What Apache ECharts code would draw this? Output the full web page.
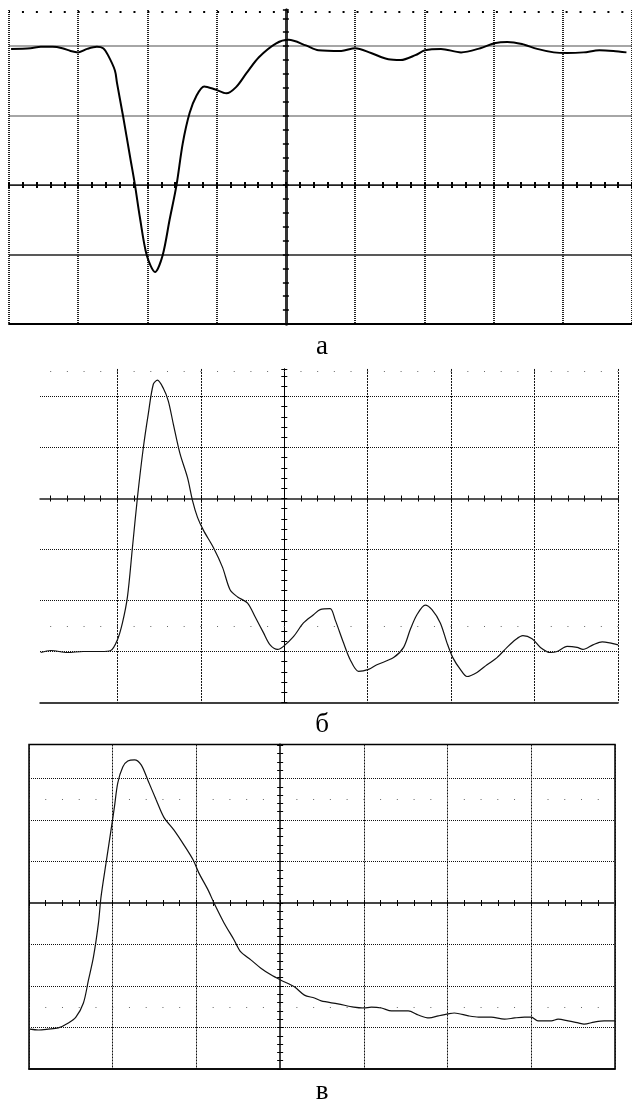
<!DOCTYPE html>
<html><head><meta charset="utf-8">
<script src="https://cdn.jsdelivr.net/npm/echarts@6/dist/echarts.min.js"></script>
<style>html,body{margin:0;padding:0;background:#fff}#c{width:632px;height:1101px}</style>
</head><body><div id="c"></div>
<script>
// Panel captions
const panelLabels = ['а', 'б', 'в'];

// Trace "а": time (divisions) and amplitude (divisions)
const tA = [-3.97,-3.69,-3.54,-3.37,-3.23,-3.11,-3.00,-2.87,-2.73,-2.64,-2.57,-2.47,-2.44,-2.35,-2.25,-2.18,-2.11,-2.01,-1.89,-1.78,-1.68,-1.58,-1.49,-1.39,-1.29,-1.18,-1.03,-0.86,-0.72,-0.57,-0.39,-0.14,0.04,0.29,0.47,0.80,1.00,1.23,1.48,1.66,1.87,2.01,2.24,2.53,2.81,3.01,3.20,3.41,3.63,3.87,4.06,4.30,4.53,4.73,4.92];
const vA = [1.96,1.97,1.99,1.99,1.97,1.93,1.91,1.96,1.99,1.97,1.87,1.65,1.47,0.98,0.40,0,-0.46,-1.01,-1.25,-1.01,-0.50,0,0.60,1.04,1.29,1.42,1.38,1.32,1.41,1.61,1.84,2.04,2.09,2.01,1.94,1.93,1.97,1.90,1.81,1.80,1.87,1.94,1.96,1.91,1.97,2.04,2.06,2.03,1.96,1.91,1.90,1.91,1.94,1.93,1.91];

// Trace "б"
const tB = [-2.92,-2.80,-2.60,-2.41,-2.20,-2.08,-2.00,-1.94,-1.88,-1.82,-1.76,-1.69,-1.63,-1.57,-1.52,-1.45,-1.39,-1.33,-1.25,-1.16,-1.10,-1.04,-0.97,-0.85,-0.74,-0.65,-0.56,-0.44,-0.35,-0.25,-0.17,-0.08,-0.01,0.11,0.23,0.35,0.43,0.55,0.61,0.71,0.79,0.89,1.01,1.11,1.31,1.43,1.51,1.59,1.69,1.77,1.87,1.95,2.02,2.11,2.19,2.31,2.43,2.55,2.67,2.77,2.86,2.97,3.07,3.19,3.27,3.39,3.51,3.58,3.70,3.81,3.90,4.00];
const vB = [-3.02,-2.98,-3.02,-3.00,-3.00,-2.98,-2.77,-2.44,-1.93,-0.96,0.02,0.99,1.66,2.24,2.32,2.16,1.91,1.46,0.88,0.41,-0.04,-0.37,-0.62,-0.96,-1.35,-1.79,-1.93,-2.05,-2.32,-2.63,-2.87,-2.96,-2.90,-2.71,-2.44,-2.28,-2.18,-2.16,-2.38,-2.83,-3.16,-3.39,-3.35,-3.26,-3.12,-2.92,-2.57,-2.28,-2.09,-2.18,-2.44,-2.83,-3.12,-3.35,-3.49,-3.41,-3.26,-3.12,-2.92,-2.77,-2.69,-2.75,-2.92,-3.02,-3.00,-2.90,-2.92,-2.96,-2.87,-2.81,-2.83,-2.87];

// Trace "в"
const tC = [-2.99,-2.89,-2.77,-2.65,-2.53,-2.44,-2.35,-2.29,-2.23,-2.17,-2.14,-2.08,-2.02,-1.98,-1.94,-1.88,-1.82,-1.74,-1.66,-1.58,-1.48,-1.39,-1.27,-1.15,-1.04,-0.97,-0.86,-0.79,-0.67,-0.55,-0.47,-0.35,-0.23,-0.11,0.01,0.17,0.29,0.41,0.49,0.69,0.88,1.00,1.09,1.21,1.33,1.53,1.65,1.78,1.89,2.01,2.08,2.25,2.37,2.52,2.68,2.80,2.92,3.00,3.08,3.24,3.32,3.44,3.56,3.63,3.75,3.87,4.00];
const vC = [-3.04,-3.06,-3.04,-3.01,-2.89,-2.75,-2.41,-1.86,-1.30,-0.48,0.14,0.96,1.76,2.31,2.89,3.28,3.42,3.45,3.33,2.96,2.48,2.07,1.76,1.40,1.04,0.72,0.31,0,-0.48,-0.89,-1.18,-1.37,-1.57,-1.73,-1.86,-2.02,-2.22,-2.29,-2.36,-2.43,-2.51,-2.53,-2.51,-2.53,-2.60,-2.60,-2.70,-2.77,-2.72,-2.67,-2.65,-2.72,-2.75,-2.75,-2.80,-2.77,-2.75,-2.75,-2.84,-2.84,-2.80,-2.84,-2.89,-2.92,-2.87,-2.84,-2.84];

// Graticule dot rows (divisions)
const dotRowsA = [2.5];
const dotRowsB = [2.5, -2.5];
const dotRowsC = [2.5, -2.5];

const traces = [[tA, vA], [tB, vB], [tC, vC]];
const dotRows = [dotRowsA, dotRowsB, dotRowsC];

const layout = [
  {left: 9, top: 10, width: 627.3, height: 314, xMin: -4, xMax: 5, yMin: -2, yMax: 2.52, labelY: 347},
  {left: 34, top: 368.96, width: 584, height: 333.54, xMin: -3, xMax: 4, yMin: -4, yMax: 2.54, labelY: 725},
  {left: 29, top: 744.47, width: 586, height: 324.53, xMin: -3, xMax: 4, yMin: -4, yMax: 3.82, labelY: 1092}
];

const styles = [
  {box: false,
   xSplit: {color: '#222', width: 2, type: [1, 1]},
   ySplit: {color: ['#222', '#222', '#888', '#888', '#888'], width: 1.5, type: 'solid'},
   xLine: {color: '#222', width: 1}, xTickW: 2,
   yLine: {color: '#333', width: 3}, yTickW: 1.5,
   bottom: {color: '#000', width: 2},
   trace: {color: '#000', width: 2},
   dot: {color: '#000', width: 2, len: 2}},
  {box: false,
   xSplit: {color: '#111', width: 1, type: [2, 1]},
   ySplit: {color: '#111', width: 1, type: [1, 1]},
   xLine: {color: '#555', width: 2}, xTickW: 1,
   yLine: {color: '#000', width: 1}, yTickW: 1,
   bottom: {color: '#000', width: 1.5},
   trace: {color: '#111', width: 1.2},
   dot: {color: '#666', width: 1, len: 1}},
  {box: true,
   xSplit: {color: '#111', width: 1, type: [2, 1]},
   ySplit: {color: '#111', width: 1, type: [1, 1]},
   xLine: {color: '#444', width: 2}, xTickW: 1,
   yLine: {color: '#444', width: 2}, yTickW: 1,
   bottom: {color: '#000', width: 1.5},
   trace: {color: '#111', width: 1.2},
   dot: {color: '#666', width: 1, len: 1}}
];

const grids = [], xAxes = [], yAxes = [], series = [];

layout.forEach((p, i) => {
  const s = styles[i];
  grids.push({left: p.left, top: p.top, width: p.width, height: p.height,
    show: s.box, borderColor: '#000', borderWidth: 1.5, backgroundColor: 'transparent'});

  const xBase = {gridIndex: i, type: 'value', min: p.xMin, max: p.xMax, interval: 1,
    axisLabel: {show: false}, silent: true};
  const yBase = {gridIndex: i, type: 'value', min: p.yMin, max: p.yMax, interval: 1,
    axisLabel: {show: false}, silent: true};
  const xt = {show: true, length: 3, lineStyle: {color: '#000', width: s.xTickW}};
  const xm = {show: true, splitNumber: 5, length: 3, lineStyle: {color: '#000', width: s.xTickW}};
  const yt = {show: true, length: 3, lineStyle: {color: '#000', width: s.yTickW}};
  const ym = {show: true, splitNumber: 5, length: 3, lineStyle: {color: '#000', width: s.yTickW}};

  xAxes.push(Object.assign({}, xBase, {position: 'bottom',
    axisLine: {show: true, onZero: true, lineStyle: s.xLine},
    axisTick: xt, minorTick: xm,
    splitLine: {show: true, showMinLine: true, showMaxLine: true, lineStyle: s.xSplit}}));
  xAxes.push(Object.assign({}, xBase, {position: 'top',
    axisLine: {show: true, onZero: true, lineStyle: s.xLine},
    axisTick: xt, minorTick: xm, splitLine: {show: false}}));
  xAxes.push(Object.assign({}, xBase, {position: 'bottom',
    axisLine: {show: true, onZero: false, lineStyle: s.bottom},
    axisTick: {show: false}, minorTick: {show: false}, splitLine: {show: false}}));

  yAxes.push(Object.assign({}, yBase, {position: 'left',
    axisLine: {show: true, onZero: true, lineStyle: s.yLine},
    axisTick: yt, minorTick: ym,
    splitLine: {show: true, showMinLine: false, showMaxLine: false, lineStyle: s.ySplit}}));
  yAxes.push(Object.assign({}, yBase, {position: 'right',
    axisLine: {show: true, onZero: true, lineStyle: s.yLine},
    axisTick: yt, minorTick: ym, splitLine: {show: false}}));

  const [t, v] = traces[i];
  const period = p.width / ((p.xMax - p.xMin) * 5);
  series.push({
    type: 'line', xAxisIndex: i * 3, yAxisIndex: i * 2,
    data: t.map((x, k) => [x, v[k]]),
    symbol: 'none', showSymbol: false, smooth: 0.3, clip: true,
    lineStyle: {color: s.trace.color, width: s.trace.width},
    silent: true, animation: false, z: 5,
    markLine: {
      silent: true, animation: false, symbol: ['none', 'none'], label: {show: false},
      emphasis: {disabled: true},
      lineStyle: {color: s.dot.color, width: s.dot.width,
        type: [s.dot.len, period - s.dot.len], dashOffset: s.dot.len / 2},
      data: dotRows[i].map(r => ({yAxis: r}))
    }
  });
});

const graphic = [
  {type: 'rect', shape: {x: 0, y: 358, width: 39.5, height: 348}, style: {fill: '#fff'}, z: 100, silent: true}
].concat(panelLabels.map((txt, i) => ({
  type: 'text', x: 322, y: layout[i].labelY, z: 101, silent: true,
  style: {text: txt, fill: '#000', fontSize: 27, fontFamily: '"Liberation Serif", "DejaVu Serif", serif',
    align: 'center', verticalAlign: 'middle'}
})));

const chart = echarts.init(document.getElementById('c'), null, {renderer: 'canvas', width: 632, height: 1101});
chart.setOption({
  animation: false,
  backgroundColor: '#fff',
  grid: grids, xAxis: xAxes, yAxis: yAxes, series: series, graphic: graphic
});
</script></body></html>
